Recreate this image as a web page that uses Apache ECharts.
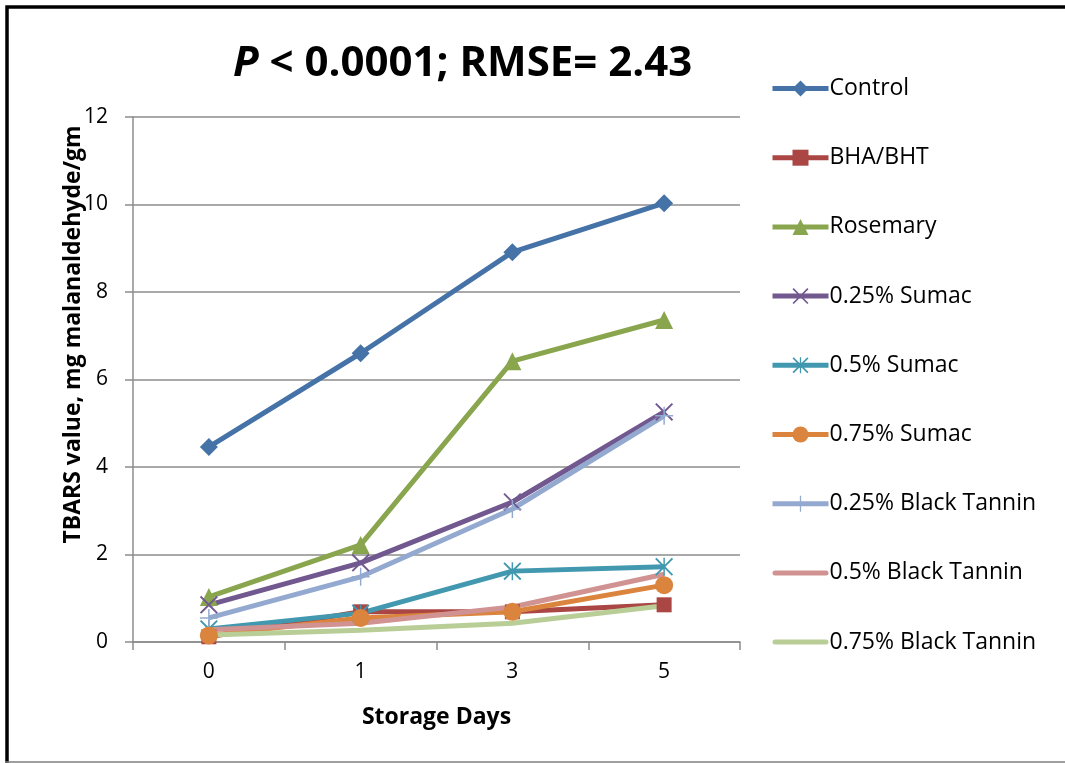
<!DOCTYPE html>
<html>
<head>
<meta charset="utf-8">
<script src="https://cdn.jsdelivr.net/npm/echarts@6/dist/echarts.min.js"></script>
<style>
html,body{margin:0;padding:0;background:#fff;}
#main{width:1065px;height:763px;}
</style>
</head>
<body>
<div id="main"></div>
<script>
const days = ['0', '1', '3', '5'];
const yTicks = [0, 2, 4, 6, 8, 10, 12];
const seriesNames = ['Control', 'BHA/BHT', 'Rosemary', '0.25% Sumac', '0.5% Sumac', '0.75% Sumac', '0.25% Black Tannin', '0.5% Black Tannin', '0.75% Black Tannin'];
const control = [4.46, 6.6, 8.91, 10.03];
const bhaBht = [0.12, 0.69, 0.69, 0.85];
const rosemary = [1.03, 2.22, 6.42, 7.36];
const sumac025 = [0.85, 1.81, 3.2, 5.26];
const sumac05 = [0.3, 0.66, 1.62, 1.72];
const sumac075 = [0.15, 0.55, 0.69, 1.3];
const tannin025 = [0.55, 1.49, 3.04, 5.17];
const tannin05 = [0.28, 0.43, 0.8, 1.55];
const tannin075 = [0.16, 0.27, 0.43, 0.83];

const FONT = 'Open Sans';
const colors = ['#4572A7', '#AA4643', '#89A54E', '#71588F', '#4198AF', '#DB843D', '#93A9CF', '#D19392', '#B9CD96'];
const X_PATH = 'path://M0,1.5 L1.5,0 L10,8.5 L18.5,0 L20,1.5 L11.5,10 L20,18.5 L18.5,20 L10,11.5 L1.5,20 L0,18.5 L8.5,10 Z';
const PLUS_PATH = 'path://M9.2,0 H10.8 V9.2 H20 V10.8 H10.8 V20 H9.2 V10.8 H0 V9.2 H9.2 Z';
const STAR_PATH = 'path://M0,1.5 L1.5,0 L10,8.5 L18.5,0 L20,1.5 L11.5,10 L20,18.5 L18.5,20 L10,11.5 L1.5,20 L0,18.5 L8.5,10 Z M9.2,0 H10.8 V20 H9.2 Z';
const LINE_ICON = 'path://M0,0 L0.01,0 Z M2.5,7.5 H53.5 A2.5,2.5 0 0 1 53.5,12.5 H2.5 A2.5,2.5 0 0 1 2.5,7.5 Z M56,20 L55.99,20 Z';
const dataList = [control, bhaBht, rosemary, sumac025, sumac05, sumac075, tannin025, tannin05, tannin075];
const symbols = ['diamond', 'rect', 'triangle', X_PATH, STAR_PATH, 'circle', PLUS_PATH, 'none', 'none'];
const symbolSizes = [18, 15, 18, 18, 18, 18, 18, 0, 0];

const series = dataList.map((d, i) => ({
  name: seriesNames[i],
  type: 'line',
  data: d,
  symbol: symbols[i],
  symbolSize: symbolSizes[i],
  showSymbol: symbols[i] !== 'none',
  color: colors[i],
  lineStyle: { width: 5, color: colors[i] },
  itemStyle: { color: colors[i] },
  animation: false
}));

const legendData = seriesNames.map((n, i) => symbols[i] === 'none' ? { name: n, icon: LINE_ICON } : { name: n });

const chart = echarts.init(document.getElementById('main'));
chart.setOption({
  animation: false,
  backgroundColor: '#ffffff',
  title: {
    text: '{i|P} < 0.0001; RMSE= 2.43',
    left: 228,
    top: 38,
    textStyle: {
      fontFamily: FONT,
      fontSize: 42,
      fontWeight: 'bold',
      color: '#000',
      rich: {
        i: { fontFamily: FONT, fontSize: 42, fontWeight: 'bold', fontStyle: 'italic', color: '#000' }
      }
    }
  },
  legend: {
    orient: 'vertical',
    left: 770,
    top: 77,
    padding: 0,
    itemWidth: 56,
    itemHeight: 20,
    itemGap: 46.2,
    data: legendData,
    lineStyle: { width: 5 },
    textStyle: { fontFamily: FONT, fontSize: 23, color: '#000', lineHeight: 22, padding: [0, 0, 0, -4] }
  },
  grid: { left: 133, right: 325, top: 117, bottom: 121, containLabel: false },
  xAxis: {
    type: 'category',
    data: days,
    boundaryGap: true,
    name: 'Storage Days',
    nameLocation: 'middle',
    nameGap: 64,
    nameTextStyle: { fontFamily: FONT, fontSize: 23, fontWeight: 'bold', color: '#000' },
    axisLine: { show: true, lineStyle: { color: '#8c8c8c', width: 1.5 } },
    axisTick: { show: true, length: 8, lineStyle: { color: '#8c8c8c', width: 1.5 } },
    axisLabel: { fontFamily: FONT, fontSize: 21, color: '#000', margin: 20 },
    splitLine: { show: false }
  },
  yAxis: {
    type: 'value',
    min: yTicks[0],
    max: yTicks[yTicks.length - 1],
    interval: 2,
    name: 'TBARS value, mg malanaldehyde/gm',
    nameLocation: 'middle',
    nameGap: 48,
    nameMoveOverlap: false,
    nameTextStyle: { fontFamily: FONT, fontSize: 23, fontWeight: 'bold', color: '#000', padding: [0, 0, 0, 90] },
    axisLine: { show: true, lineStyle: { color: '#8c8c8c', width: 1.5 } },
    axisTick: { show: true, inside: false, length: 8, lineStyle: { color: '#8c8c8c', width: 1.5 } },
    axisLabel: { fontFamily: FONT, fontSize: 21, color: '#000', margin: 25 },
    splitLine: { show: true, lineStyle: { color: '#8c8c8c', width: 1.5 } }
  },
  graphic: [
    { type: 'rect', shape: { x: 7, y: 7, width: 1100, height: 800 }, style: { fill: 'none', stroke: '#000', lineWidth: 3.5 }, silent: true },
    { type: 'line', shape: { x1: 5, y1: 762, x2: 1065, y2: 762 }, style: { stroke: '#7f7f7f', lineWidth: 1.5 }, silent: true }
  ],
  series: series
});
</script>
</body>
</html>
